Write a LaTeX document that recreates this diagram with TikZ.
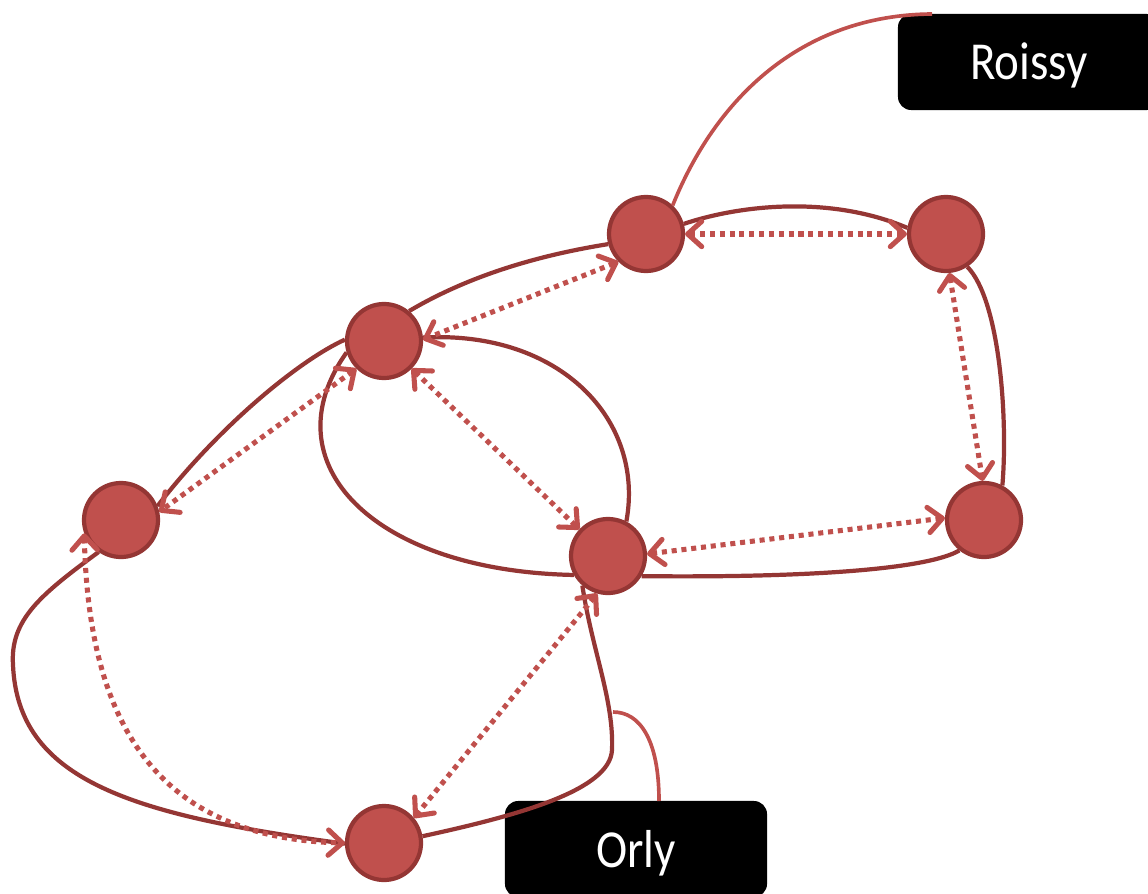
\documentclass[tikz,border=0pt]{standalone}
\usepackage{fontspec}
\newfontfamily\boxfont[FakeStretch=0.88]{Carlito}
\usetikzlibrary{arrows.meta}
\definecolor{nodered}{HTML}{C0504D}
\definecolor{edgered}{HTML}{943634}

\begin{document}
\begin{tikzpicture}[x=0.025cm, y=-0.025cm,
	vtx/.style={draw=edgered, fill=nodered, circle, line width=3pt, minimum size=1.85cm, inner sep=0pt},
	lbl/.style={fill=black, text=white, rounded corners=0.33cm, minimum width=6.55cm, minimum height=2.4cm, text height=25.6pt, text depth=0pt, font=\boxfont\fontsize{38}{40}\selectfont},
	link/.style={draw=edgered, line width=3pt},
	call/.style={draw=nodered, line width=2.6pt},
	dotarr/.style={draw=nodered, line width=3.6pt, dash pattern=on 3.6pt off 3.4pt, >={Straight Barb[length=10pt,width=18pt,round]}, <->}]
\useasboundingbox (0,0) rectangle (1148,893);
\node[lbl] (roissy) at (1029,62) {Roissy};
\node[lbl] (orly) at (636,849) {Orly};
\foreach \i/\x/\y in {1/646/234, 2/946/234, 3/384/341, 4/121/520, 5/608/556, 6/984/520, 7/384/843}{\node[vtx] (v\i) at (\x,\y) {};}
\draw[link] (v1.15) .. controls (740,205) and (830,195) .. (v2.171);
\draw[link] (v2.-57) .. controls (1000,300) and (1008,420) .. (v6.62);
\draw[link] (v6.231) .. controls (930,568) and (820,578) .. (v5.-31);
\draw[link] (v3.197) .. controls (268,463) and (373,571) .. (v5.209);
\draw[link] (v3.5) .. controls (560,330) and (645,420) .. (v5.62);
\draw[link] (v3.50) .. controls (470,275) and (540,255) .. (v1.195);
\draw[link] (v3.178) .. controls (300,360) and (220,425) .. (v4.21);
\draw[link] (v4.235) .. controls (40,595) and (10,620) .. (13,665) .. controls (18,780) and (130,815) .. (v7.181);
\draw[link] (v5.229) .. controls (592,650) and (614,700) .. (612,750) .. controls (610,790) and (520,815) .. (v7.10);
\coordinate (rtip) at (932,14);
\coordinate (otip) at (613,712);
\coordinate (otail) at (659,801);
\draw[call] (v1.47) .. controls (715,100) and (800,15) .. (rtip);
\draw[call] (otip) .. controls (640,712) and (659,740) .. (otail);
\foreach \a/\b in {v1.0/v2.180, v1.225/v3.2, v3.225/v4.12, v3.-45/v5.137, v5.3/v6.177, v2.-85/v6.92, v5.254/v7.40}{\draw[dotarr] (\a) -- (\b);}
\draw[dotarr] (v4.200) .. controls (88,700) and (140,838) .. (v7.180);
\end{tikzpicture}
\end{document}
